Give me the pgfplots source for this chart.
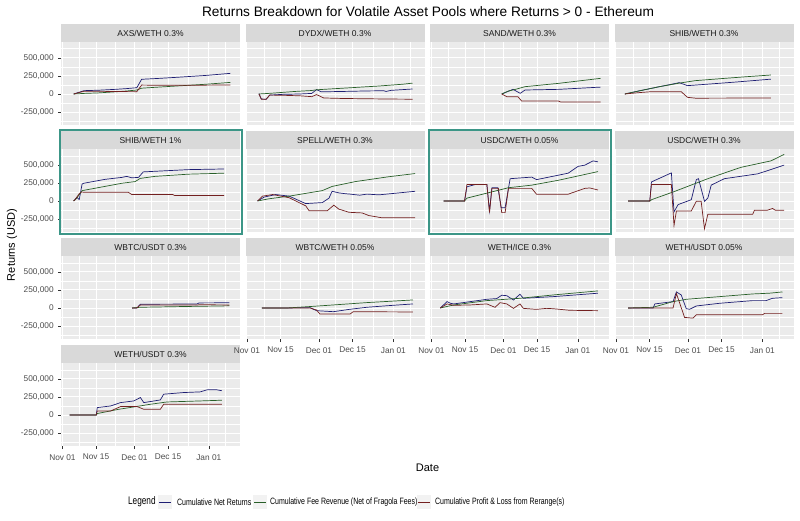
\documentclass[border=0pt]{standalone}
\usepackage{pgfplots}
\pgfplotsset{compat=1.18}
\usepackage{fontspec}
\setmainfont{Liberation Sans}
\definecolor{panelbg}{HTML}{EBEBEB}
\definecolor{stripbg}{HTML}{D9D9D9}
\definecolor{ticktext}{HTML}{4D4D4D}
\definecolor{tickline}{HTML}{333333}
\definecolor{striptext}{HTML}{1A1A1A}
\definecolor{cnet}{RGB}{30,30,115}
\definecolor{cfee}{RGB}{40,95,40}
\definecolor{cpnl}{RGB}{115,32,32}
\definecolor{hl}{RGB}{60,150,135}
\definecolor{keybg}{HTML}{F2F2F2}
\pgfplotsset{
 facet/.style={
  scale only axis, width=179pt, height=83.5pt,
  xmin=-0.6, xmax=74, ymin=-435000, ymax=718000,
  axis background/.style={fill=panelbg},
  axis line style={draw=none},
  xtick={0,14,30,44,61}, minor xtick={7,22,37,52.5,68},
  ytick={-250000,0,250000,500000}, minor ytick={-375000,-125000,125000,375000,625000},
  xticklabels={}, yticklabels={},
  grid=both,
  major grid style={draw=white, line width=0.9pt},
  minor grid style={draw=white, line width=0.45pt},
  tick align=outside, major tick length=2.75pt, minor tick length=0pt,
  xtick pos=left, ytick pos=left,
  every x tick/.style={draw=none},
  every y tick/.style={draw=none},
  tick label style={font=\fontsize{8.3}{10}\selectfont, text=ticktext},
  xticklabel style={yshift=-1.5pt},
  yticklabel style={xshift=-1pt},
  no marks,
  every axis plot/.append style={line width=0.7pt},
 },
 xlab/.style={xticklabels={Nov 01,Nov 15,Dec 01,Dec 15,Jan 01}, every x tick/.style={draw=tickline,line width=0.5pt}},
 ylab/.style={yticklabels={{-250,000},{0},{250,000},{500,000}}, every y tick/.style={draw=tickline,line width=0.5pt}},
}
\newcommand\panel[5]{%
  \pgfmathsetmacro\px{61+#1*184.5}%
  \pgfmathsetmacro\py{521-42-#2*107}%
  \pgfmathsetmacro\sx{\px+89.5}%
  \pgfmathsetmacro\sy{\py+8.75}%
  \begin{axis}[facet, at={(\px pt,\py pt)}, anchor=north west, #4]
  #5
  \end{axis}
  \fill[stripbg] (\px pt,\py pt) rectangle ++(179pt,17.5pt);
  \node[font=\fontsize{8.5}{10}\selectfont, text=striptext, inner sep=0pt] at (\sx pt,\sy pt) {#3};
}
\begin{document}
\begin{tikzpicture}
\useasboundingbox (0,0) rectangle (800pt,521pt);
\fill[white] (0,0) rectangle (800pt,521pt);

\panel{0}{3}{WETH/USDT 0.3\%}{xlab,ylab}{
\addplot[cnet] coordinates {(3,0)(14.1,0)(14.5,102000)(20.1,125000)(24.2,171000)(29.7,194000)(32.5,241000)(33.9,171000)(40.8,208000)(42.2,287000)(50.5,310000)(57.4,319000)(60.2,347000)(64,350000)(66.4,335000)};
\addplot[cfee] coordinates {(3,0)(14.1,0)(14.5,20000)(23.5,79000)(29.7,111000)(36.6,148000)(43.6,180000)(57.4,194000)(66.4,204000)};
\addplot[cpnl] coordinates {(3,0)(14.1,0)(14.5,56000)(20.1,56000)(24.2,116000)(31.1,116000)(33.9,79000)(40.8,79000)(42.2,148000)(66.4,148000)};
}
\panel{0}{0}{AXS/WETH 0.3\%}{ylab}{
\addplot[cnet] coordinates {(4.7,0)(9,46000)(15,52000)(22,64000)(27,75000)(31,87000)(33,203000)(40,215000)(50,235000)(60,257000)(70,285000)};
\addplot[cfee] coordinates {(4.7,0)(9,8000)(15,15000)(22,30000)(27,42000)(31,55000)(33,80000)(40,95000)(50,115000)(60,135000)(70,160000)};
\addplot[cpnl] coordinates {(4.7,0)(9,38000)(15,37000)(22,34000)(27,33000)(31,32000)(33,123000)(40,120000)(50,120000)(60,122000)(70,125000)};
}
\panel{1}{0}{DYDX/WETH 0.3\%}{}{
\addplot[cnet] coordinates {(5,5000)(6,-70000)(8,-72000)(9.5,-15000)(15,-5000)(22,0)(27,8000)(29,60000)(31,30000)(40,35000)(50,42000)(57,45000)(58,35000)(60,50000)(69,69000)};
\addplot[cfee] coordinates {(5,0)(10,10000)(20,35000)(27,48000)(29,58000)(35,70000)(45,90000)(55,110000)(65,135000)(69,150000)};
\addplot[cpnl] coordinates {(5,0)(6,-72000)(8,-74000)(9.5,-15000)(15,-18000)(22,-25000)(27,-37000)(29,-8000)(32,-55000)(40,-62000)(50,-66000)(60,-70000)(69,-72000)};
}
\panel{2}{0}{SAND/WETH 0.3\%}{}{
\addplot[cnet] coordinates {(29.3,0)(34,64000)(37,9000)(39,55000)(53,64000)(70.5,95000)};
\addplot[cfee] coordinates {(29.3,0)(32,40000)(35,64000)(39,101000)(53,147000)(70.5,216000)};
\addplot[cpnl] coordinates {(29.3,0)(31.4,-37000)(36,-37000)(37.6,-97000)(52.9,-97000)(54,-112000)(70.5,-112000)};
}
\panel{3}{0}{SHIB/WETH 0.3\%}{}{
\addplot[cnet] coordinates {(3.7,0)(10,45000)(18,100000)(24,140000)(26.4,157000)(29.8,115000)(40,140000)(50,165000)(64.6,205000)};
\addplot[cfee] coordinates {(3.7,0)(10,45000)(18,100000)(26.4,150000)(33,184000)(45,215000)(55,240000)(64.6,262000)};
\addplot[cpnl] coordinates {(3.7,0)(10,20000)(14.8,32000)(27.2,32000)(29.8,-46000)(33.2,-58000)(64.6,-55000)};
}
\panel{0}{1}{SHIB/WETH 1\%}{ylab}{
\addplot[cnet] coordinates {(4.7,0)(6,50000)(7,20000)(8.2,235000)(8.9,245000)(17.8,299000)(24.8,326000)(26.8,340000)(28.9,320000)(31.7,326000)(33.7,402000)(38.6,410000)(52.4,433000)(67.4,442000)};
\addplot[cfee] coordinates {(4.7,0)(6,40000)(8.2,143000)(11,160000)(24.8,245000)(30.3,268000)(32.4,312000)(38.6,340000)(52.4,370000)(67.4,384000)};
\addplot[cpnl] coordinates {(4.7,0)(5.5,30000)(7,100000)(8,125000)(9,120000)(27.5,120000)(28.9,89000)(46,89000)(46.7,76000)(67.4,76000)};
}
\panel{1}{1}{SPELL/WETH 0.3\%}{}{
\addplot[cnet] coordinates {(4.4,0)(7.2,54000)(12,89000)(17.6,67000)(24.5,-36000)(31.4,-22000)(34.2,40000)(35.5,134000)(38.3,112000)(41.1,100000)(43,95000)(47,80000)(50,95000)(55,85000)(59.1,98000)(70.1,134000)};
\addplot[cfee] coordinates {(4.4,0)(9.3,31000)(17.6,67000)(31.4,143000)(35.5,201000)(45.2,268000)(59.1,335000)(70.1,379000)};
\addplot[cpnl] coordinates {(4.4,0)(6.5,67000)(10.7,89000)(17.6,45000)(24.5,-67000)(25.9,-134000)(33.5,-134000)(36.2,-58000)(38.3,-112000)(42.5,-156000)(48,-165000)(50.8,-201000)(56.3,-232000)(70.1,-232000)};
}
\panel{2}{1}{USDC/WETH 0.05\%}{}{
\addplot[cnet] coordinates {(5.1,0)(13.8,0)(14.8,196000)(18.3,228000)(23.1,228000)(24.2,-138000)(25.2,183000)(27.7,183000)(29.1,-94000)(30.7,-94000)(32.8,308000)(41.8,330000)(43.8,295000)(57,384000)(61.1,478000)(63.9,495000)(67.4,554000)(69.4,540000)};
\addplot[cfee] coordinates {(5.1,0)(13.8,0)(14.8,40000)(32.1,183000)(41.8,219000)(52.9,286000)(69.4,406000)};
\addplot[cpnl] coordinates {(5.1,0)(13.8,0)(14.8,228000)(23.1,228000)(24.2,-161000)(25.2,174000)(27.9,174000)(29.3,-161000)(30.7,-161000)(32.1,174000)(41.8,174000)(43.8,94000)(57,94000)(63.9,174000)(66,180000)(69.4,152000)};
}
\panel{3}{1}{USDC/WETH 0.3\%}{}{
\addplot[cnet] coordinates {(5.1,0)(14.1,0)(14.8,263000)(23.1,388000)(24.2,-150000)(25.9,-50000)(31.4,18000)(33.5,295000)(34.4,308000)(36.9,-4000)(38.3,40000)(39.7,219000)(45.2,308000)(59.1,375000)(65.3,442000)(70.1,496000)};
\addplot[cfee] coordinates {(5.1,0)(14.1,0)(15,20000)(24.2,129000)(38.3,308000)(52,464000)(64.6,554000)(70.1,643000)};
\addplot[cpnl] coordinates {(5.1,0)(14.1,0)(14.8,228000)(23.1,228000)(24.2,-339000)(25.2,-138000)(31.4,-138000)(33.5,-4000)(35.5,-4000)(36.9,-384000)(38.3,-183000)(57,-183000)(57.7,-129000)(63,-129000)(65.3,-103000)(66.5,-129000)(70.1,-129000)};
}
\panel{0}{2}{WBTC/USDT 0.3\%}{ylab}{
\addplot[cnet] coordinates {(29,0)(31,0)(32.5,52000)(56,55000)(57,70000)(69.6,72000)};
\addplot[cfee] coordinates {(29,0)(32.5,10000)(50,20000)(69.6,30000)};
\addplot[cpnl] coordinates {(29,0)(31,0)(32.5,42000)(56,40000)(57,45000)(69.6,42000)};
}
\panel{1}{2}{WBTC/WETH 0.05\%}{xlab}{
\addplot[cnet] coordinates {(6.2,0)(16.6,0)(26.3,5000)(29,-37000)(36,-51000)(42.9,-18000)(50,10000)(60,35000)(69.2,56000)};
\addplot[cfee] coordinates {(6.2,0)(16.6,0)(26.3,20000)(36,42000)(49.8,74000)(69.2,111000)};
\addplot[cpnl] coordinates {(6.2,0)(26.3,0)(29,-28000)(30.4,-83000)(43,-83000)(44.3,-51000)(69.2,-55000)};
}
\panel{2}{2}{WETH/ICE 0.3\%}{xlab}{
\addplot[cnet] coordinates {(3.7,0)(6.5,88000)(7.9,65000)(9.3,56000)(16.2,88000)(23.1,120000)(27.2,130000)(29.3,176000)(31.4,170000)(34.2,110000)(36.9,190000)(38.3,134000)(50.8,157000)(69.4,204000)};
\addplot[cfee] coordinates {(3.7,0)(9.3,42000)(23.1,102000)(36.9,134000)(50.8,180000)(69.4,236000)};
\addplot[cpnl] coordinates {(3.7,0)(6.5,56000)(9.3,37000)(16.2,42000)(23.1,56000)(26.5,9000)(28.6,74000)(31.4,56000)(34.2,-5000)(36.9,56000)(38.3,-5000)(43.8,-19000)(48,-5000)(50.8,-10000)(57.7,-32000)(69.4,-37000)};
}
\panel{3}{2}{WETH/USDT 0.05\%}{xlab}{
\addplot[cnet] coordinates {(5.1,0)(15.5,0)(16.2,56000)(23.8,88000)(25.2,222000)(27.2,180000)(29.3,-9000)(30.7,-18000)(33.5,28000)(43.2,65000)(57,102000)(62.5,102000)(65.3,134000)(69.4,143000)};
\addplot[cfee] coordinates {(5.1,0)(15.5,10000)(23.8,88000)(29.3,120000)(43.2,157000)(57,194000)(63.9,204000)(69.4,222000)};
\addplot[cpnl] coordinates {(5.1,0)(15.5,0)(23.8,0)(25.2,200000)(28.6,-130000)(32.1,-140000)(33.5,-93000)(61.1,-93000)(62,-74000)(69.4,-74000)};
}

% highlight borders
\draw[hl, line width=2pt] (59.5pt,287pt) rectangle (241.5pt,391pt);
\draw[hl, line width=2pt] (428.5pt,287pt) rectangle (610.5pt,391pt);

% titles
\node[font=\fontsize{13.7}{16}\selectfont] at (428pt,509pt) {Returns Breakdown for Volatile Asset Pools where Returns > 0 - Ethereum};
\node[font=\fontsize{11}{13}\selectfont, rotate=90] at (12pt,276pt) {Returns (USD)};
\node[font=\fontsize{11}{13}\selectfont] at (427.5pt,53pt) {Date};

% legend
\node[font=\fontsize{11}{13}\selectfont, anchor=west, inner sep=0pt, xscale=0.75] at (128pt,19pt) {Legend};
\fill[keybg] (158pt,12pt) rectangle (172pt,26pt);
\draw[cnet, line width=0.7pt] (159pt,19pt) -- (171pt,19pt);
\node[font=\fontsize{9.2}{11}\selectfont, anchor=west, inner sep=0pt, xscale=0.76] at (177pt,19pt) {Cumulative Net Returns};
\fill[keybg] (253pt,12pt) rectangle (267pt,26pt);
\draw[cfee, line width=0.7pt] (254pt,19pt) -- (266pt,19pt);
\node[font=\fontsize{9.2}{11}\selectfont, anchor=west, inner sep=0pt, xscale=0.76] at (270pt,19pt) {Cumulative Fee Revenue (Net of Fragola Fees)};
\fill[keybg] (417pt,12pt) rectangle (431pt,26pt);
\draw[cpnl, line width=0.7pt] (418pt,19pt) -- (430pt,19pt);
\node[font=\fontsize{9.2}{11}\selectfont, anchor=west, inner sep=0pt, xscale=0.76] at (435pt,19pt) {Cumulative Profit \& Loss from Rerange(s)};
\end{tikzpicture}
\end{document}
